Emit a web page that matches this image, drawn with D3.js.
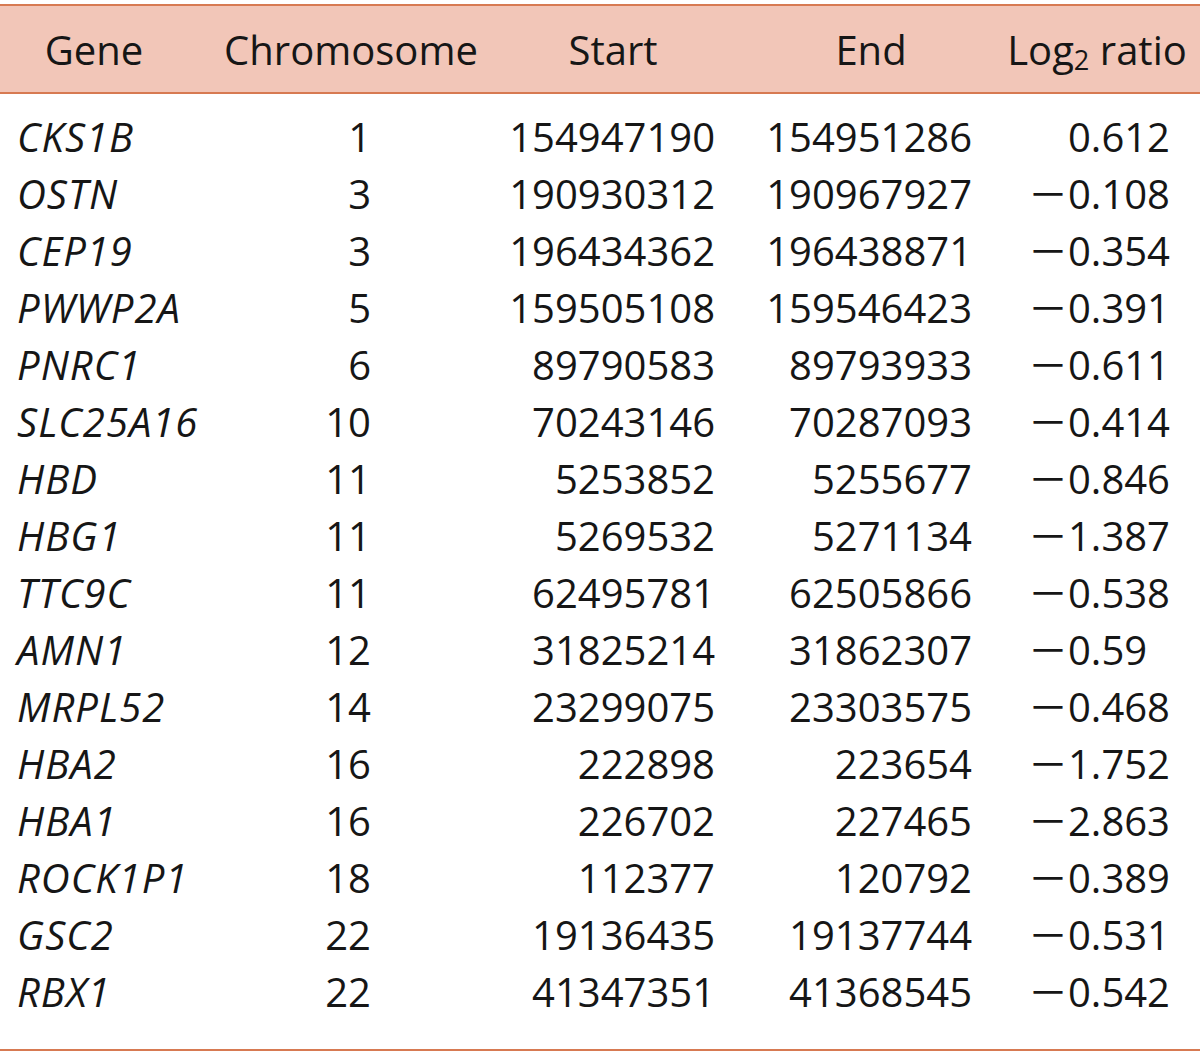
<!DOCTYPE html>
<html>
<head>
<meta charset="utf-8">
<script src="https://cdn.jsdelivr.net/npm/d3@7"></script>
<style>
  html, body { margin: 0; padding: 0; background: #ffffff; }
  svg { display: block; }
  text { font-family: "Open Sans", "Noto Sans", sans-serif; fill: #161616; }
</style>
</head>
<body>
<svg id="chart" width="1200" height="1058"></svg>
<script>
const headers = ["Gene", "Chromosome", "Start", "End", "Log2 ratio"];
const genes = ["CKS1B","OSTN","CEP19","PWWP2A","PNRC1","SLC25A16","HBD","HBG1","TTC9C","AMN1","MRPL52","HBA2","HBA1","ROCK1P1","GSC2","RBX1"];
const chromosomes = [1,3,3,5,6,10,11,11,11,12,14,16,16,18,22,22];
const starts = [154947190,190930312,196434362,159505108,89790583,70243146,5253852,5269532,62495781,31825214,23299075,222898,226702,112377,19136435,41347351];
const ends = [154951286,190967927,196438871,159546423,89793933,70287093,5255677,5271134,62505866,31862307,23303575,223654,227465,120792,19137744,41368545];
const log2Ratios = ["0.612","-0.108","-0.354","-0.391","-0.611","-0.414","-0.846","-1.387","-0.538","-0.59","-0.468","-1.752","-2.863","-0.389","-0.531","-0.542"];

const W = 1200, H = 1058;
const svg = d3.select("#chart");

// row baselines
const y = d3.scalePoint().domain(genes).range([152, 1007]);

// header band
svg.append("rect").attr("x", 0).attr("y", 5).attr("width", W).attr("height", 88).attr("fill", "#f2c6b8");
[5, 93, 1050].forEach(yy => {
  svg.append("line").attr("x1", 0).attr("x2", W).attr("y1", yy).attr("y2", yy)
    .attr("stroke", "#d77a52").attr("stroke-width", 2.2);
});

const fs = 40;
// header texts (centered)
const headerX = [94, 351, 613, 871, 1097];
const hg = svg.append("g").attr("font-size", fs);
headers.forEach((h, i) => {
  const t = hg.append("text").attr("x", headerX[i]).attr("y", 65).attr("text-anchor", "middle");
  if (h === "Log2 ratio") {
    t.append("tspan").text("Log");
    t.append("tspan").attr("font-size", fs * 0.68).attr("dy", 5).text("2");
    t.append("tspan").attr("dy", -5).text(" ratio");
  } else {
    t.text(h);
  }
});

const body = svg.append("g").attr("font-size", fs);
genes.forEach((g, i) => {
  const yy = y(g);
  body.append("text").attr("x", 17).attr("y", yy).attr("font-style", "italic")
    .attr("letter-spacing", 1).text(g);
  body.append("text").attr("x", 371).attr("y", yy).attr("text-anchor", "end").text(chromosomes[i]);
  body.append("text").attr("x", 715).attr("y", yy).attr("text-anchor", "end").text(starts[i]);
  body.append("text").attr("x", 972).attr("y", yy).attr("text-anchor", "end").text(ends[i]);
  const v = log2Ratios[i];
  const neg = v.startsWith("-");
  const digits = neg ? v.slice(1) : v;
  const pad = digits.length < 5 ? "\u2007" : "";
  const t = body.append("text").attr("x", 1170).attr("y", yy).attr("text-anchor", "end");
  if (neg) t.append("tspan").attr("font-family", "Noto Sans CJK SC").text("\uFF0D");
  t.append("tspan").text(digits + pad);
});
</script>
</body>
</html>
